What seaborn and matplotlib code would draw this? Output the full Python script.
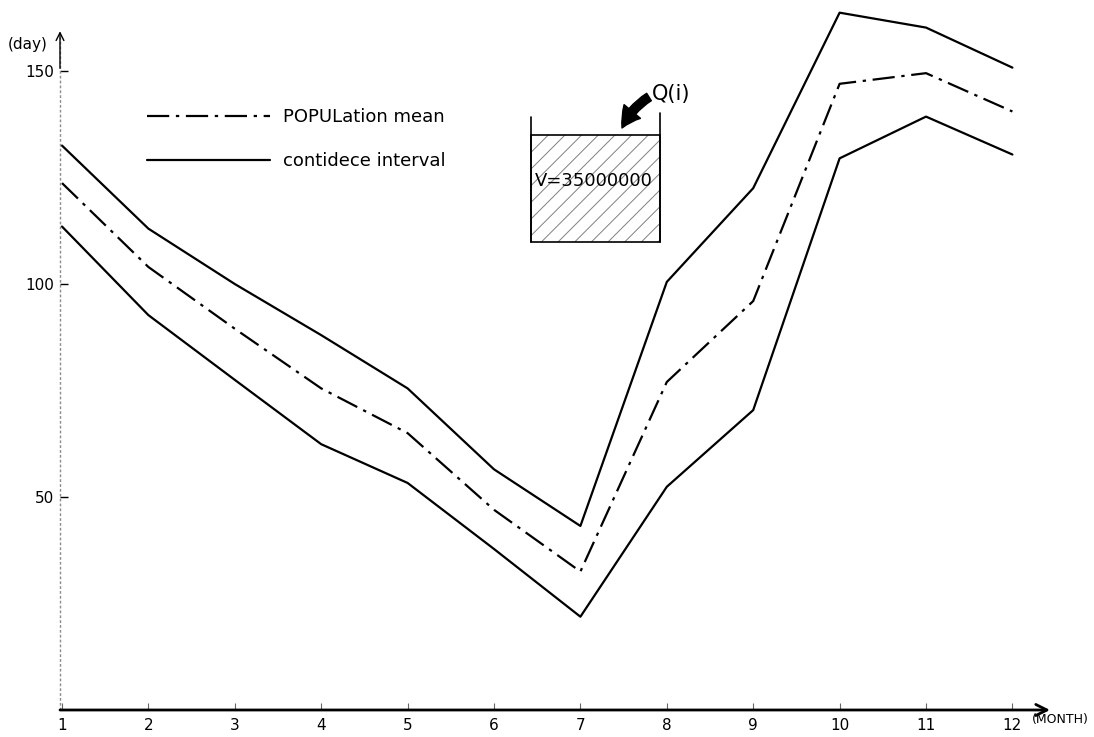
import matplotlib
matplotlib.use("Agg")
import matplotlib.pyplot as plt
import seaborn as sns
import pandas as pd
from matplotlib.lines import Line2D
from matplotlib.patches import Rectangle

# monthly values (days)
months = list(range(1, 13))
mean_days = [123.7, 104, 89.5, 75.5, 65, 47, 32.5, 77, 96, 147, 149.5, 140.5]
upper_days = [132.5, 113, 100, 88, 75.5, 56.5, 43.2, 100.5, 122.5, 163.7, 160.2, 150.8]
lower_days = [113.5, 92.7, 77.5, 62.4, 53.3, 37.8, 21.9, 52.4, 70.4, 129.5, 139.3, 130.4]
y_ticks = [50, 100, 150]
legend_labels = ["POPULation mean", "contidece interval"]

df = pd.DataFrame({"month": months, "mean": mean_days,
                   "upper": upper_days, "lower": lower_days})

sns.set_theme(style="white")
plt.rcParams['font.family'] = ['DejaVu Sans']
plt.rcParams['hatch.linewidth'] = 0.7
plt.rcParams['text.color'] = 'black'
plt.rcParams['xtick.labelcolor'] = 'black'
plt.rcParams['ytick.labelcolor'] = 'black'

W, H = 1094, 737
fig = plt.figure(figsize=(W / 100, H / 100), dpi=100)
ax = fig.add_axes([60 / W, (H - 710) / H, 990 / W, 705 / H])
x0, x1 = 0.977, 12.435
ax.set_xlim(x0, x1)
ax.set_ylim(0, 165.5)

dashdot = (0, (10, 3, 1.5, 3))
sns.lineplot(data=df, x="month", y="upper", color="black", lw=1.6, ax=ax)
sns.lineplot(data=df, x="month", y="lower", color="black", lw=1.6, ax=ax)
sns.lineplot(data=df, x="month", y="mean", color="black", lw=1.6,
             linestyle=dashdot, ax=ax)

for s in ax.spines.values():
    s.set_visible(False)

# hand drawn style axes with arrows
ax.plot([x0, x0], [0, 158], color="0.55", lw=1, ls=(0, (2, 1.5)), clip_on=False)
ax.annotate("", xy=(x0, 160), xytext=(x0, 150),
            arrowprops=dict(arrowstyle="->", color="black", lw=1, mutation_scale=14),
            annotation_clip=False)
ax.annotate("", xy=(x1, 0), xytext=(x0, 0),
            arrowprops=dict(arrowstyle="->", color="black", lw=2, mutation_scale=20,
                            shrinkA=0, shrinkB=0),
            annotation_clip=False)

ax.set_xticks(months)
ax.set_xticklabels([str(m) for m in months])
ax.set_yticks(y_ticks)
ax.set_yticklabels([str(v) for v in y_ticks])
ax.tick_params(axis="y", direction="in", length=6, width=1, color="black",
               labelsize=11, pad=4, left=True)
ax.tick_params(axis="x", direction="in", length=5, width=0.8, color="0.4",
               labelsize=11, pad=6, bottom=True)
ax.set_xlabel("")
ax.set_ylabel("")

fig.text(8 / W, 1 - 45 / H, "(day)", fontsize=11, va="center", ha="left")
fig.text(1032 / W, 1 - 720 / H, "(MONTH)", fontsize=9, va="center", ha="left")

# legend
handles = [Line2D([], [], color="black", lw=1.6, linestyle=dashdot),
           Line2D([], [], color="black", lw=1.6)]
ax.legend(handles=handles, labels=legend_labels, loc="upper left",
          bbox_to_anchor=(140 / W, 1 - 101 / H), bbox_transform=fig.transFigure,
          frameon=False, fontsize=13, handlelength=6.8, handletextpad=0.7,
          labelspacing=1.45, borderaxespad=0)


# reservoir sketch
def af(x, y):
    return ((x - 60) / 990, (710 - y) / 705)


bx, by = af(531, 242)
bw, bh = (660 - 531) / 990, (242 - 135) / 705
ax.add_patch(Rectangle((bx, by), bw, bh, transform=ax.transAxes, fill=False,
                       hatch="//", edgecolor="0.5", lw=0))
ax.add_patch(Rectangle((bx, by), bw, bh, transform=ax.transAxes, fill=False,
                       edgecolor="black", lw=1.2))
for xa, ya in [(531, 117), (660, 113)]:
    p, q = af(xa, ya), af(xa, 242)
    ax.plot([p[0], q[0]], [p[1], q[1]], color="black", lw=1.2, transform=ax.transAxes)
ax.text(*af(535, 181), "V=35000000", transform=ax.transAxes, fontsize=13,
        va="center", ha="left")
ax.annotate("", xy=af(622, 128), xytext=af(649, 97), xycoords="axes fraction",
            textcoords="axes fraction",
            arrowprops=dict(arrowstyle="simple,head_width=1.1,head_length=1.0,tail_width=0.45",
                            color="black", connectionstyle="arc3,rad=0.15",
                            mutation_scale=14, shrinkA=0, shrinkB=0))
ax.text(*af(652, 94), "Q(i)", transform=ax.transAxes, fontsize=15,
        va="center", ha="left")

fig.savefig("out.png", dpi=100, facecolor="white")
